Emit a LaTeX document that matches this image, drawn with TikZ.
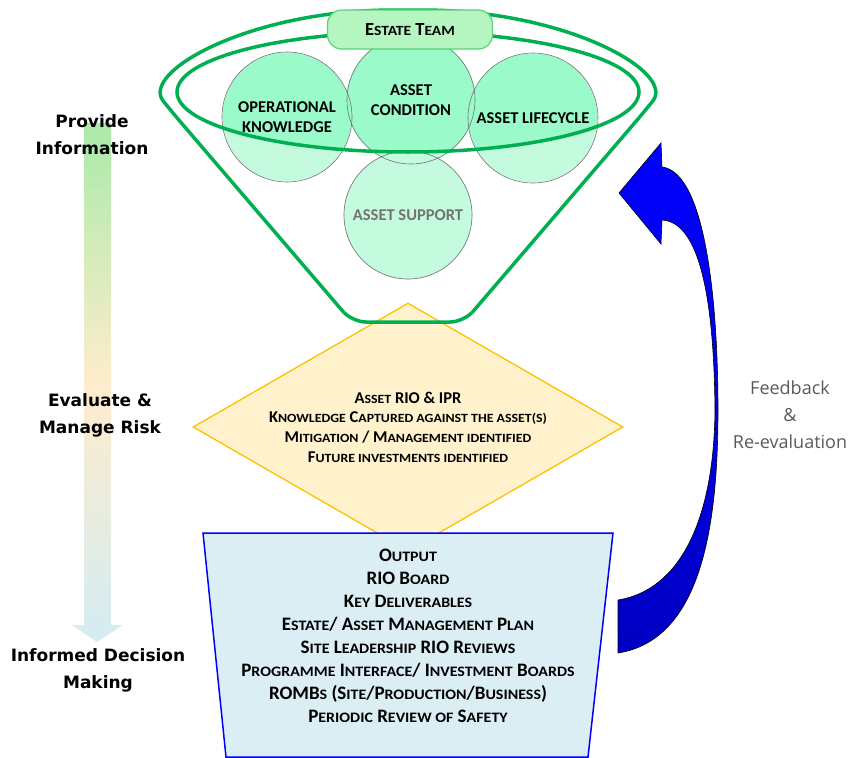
\documentclass[tikz,border=0pt]{standalone}
\usepackage{fontspec}
\setmainfont{Carlito}
\newfontfamily\stagefont{DejaVu Sans}
\newfontfamily\notefont{Open Sans}
\usepackage{graphicx}
\usetikzlibrary{shapes.geometric, positioning, backgrounds, calc}

\definecolor{funnelgreen}{RGB}{0,176,80}
\definecolor{topicdark}{RGB}{155,250,202}
\definecolor{topiclight}{RGB}{196,251,222}
\definecolor{teamfill}{RGB}{180,245,192}
\definecolor{teamline}{RGB}{90,210,120}
\definecolor{riskfill}{RGB}{255,242,204}
\definecolor{riskline}{RGB}{255,192,0}
\definecolor{outfill}{RGB}{218,238,243}
\definecolor{outline}{RGB}{0,0,255}
\definecolor{flowtop}{RGB}{170,234,170}
\definecolor{flowmid}{RGB}{254,236,204}
\definecolor{flowbot}{RGB}{212,236,243}
\definecolor{notegrey}{RGB}{90,90,90}

% fake small caps for the lower case letters
\newcommand\lc[1]{\scalebox{0.84}[0.76]{\MakeUppercase{#1}}}

\tikzset{
    funnelline/.style={draw=funnelgreen, line width=3.5pt},
    topic/.style={circle, draw=black!55, line width=0.6pt, minimum size=130pt, inner sep=0pt, align=center,
        font=\bfseries\fontsize{16.5}{20}\selectfont},
    teambox/.style={draw=teamline, fill=teamfill, line width=1.2pt, rounded corners=14pt,
        minimum width=165pt, minimum height=39pt, font=\bfseries\fontsize{18.5}{20}\selectfont},
    riskdiamond/.style={diamond, draw=riskline, fill=riskfill, line width=1.3pt, shape aspect=1.73,
        minimum width=430pt, minimum height=248pt, inner sep=0pt, align=center,
        font=\bfseries\fontsize{16.5}{19.7}\selectfont},
    outbox/.style={draw=outline, fill=outfill, line width=1.5pt},
    outtext/.style={align=center, font=\bfseries\fontsize{19}{23}\selectfont},
    stage/.style={align=center, font=\stagefont\bfseries\fontsize{17}{27}\selectfont},
    note/.style={align=center, text=notegrey, font=\notefont\fontsize{18}{27}\selectfont},
    % block arrow of the feedback loop
    feedback/.style={draw=black, line width=0.6pt, top color=blue, bottom color={rgb,255:red,0;green,0;blue,195}},
}

\begin{document}
\begin{tikzpicture}[x=1pt, y=-1pt]
    \useasboundingbox (0,0) rectangle (855,758);

    % flow on the left
    \shade[top color=flowtop, bottom color=flowbot, middle color=flowmid]
        (84,123) -- (111,123) -- (111,625) -- (123,625) -- (97,642) -- (72,625) -- (84,625) -- cycle;
    \node[stage] (provide)  at (92,135)  {Provide\\Information};
    \node[stage] (evaluate) at (100,415) {Evaluate \&\\Manage Risk};
    \node[stage] (informed) at (98,670)  {Informed Decision\\Making};

    % risk
    \node[riskdiamond] (risk) at (408,427) {A\lc{sset} RIO \& IPR\\
        K\lc{nowledge} C\lc{aptured against the asset(s)}\\
        M\lc{itigation} / M\lc{anagement identified}\\
        F\lc{uture investments identified}};

    % output
    \draw[outbox] (203,533) coordinate (out-nw) -- (613,533) coordinate (out-ne)
        -- (588,757) coordinate (out-se) -- (226,757) coordinate (out-sw) -- cycle;
    \node[outtext] (output) at (408,636) {O\lc{utput}\\
        RIO B\lc{oard}\\
        K\lc{ey} D\lc{eliverables}\\
        E\lc{state}/ A\lc{sset} M\lc{anagement} P\lc{lan}\\
        S\lc{ite} L\lc{eadership} RIO R\lc{eviews}\\
        P\lc{rogramme} I\lc{nterface}/ I\lc{nvestment} B\lc{oards}\\
        ROMB\lc{s} (S\lc{ite}/P\lc{roduction}/B\lc{usiness})\\
        P\lc{eriodic} R\lc{eview of} S\lc{afety}};

    % funnel
    \node[topic] (opk)  at (287,117) {OPERATIONAL\\KNOWLEDGE};
    \node[topic, minimum size=128pt] (cond) at (411,100) {ASSET\\CONDITION};
    \node[topic] (life) at (533,118) {ASSET LIFECYCLE};
    \node[topic, minimum size=128pt, text=black!55] (supp) at (408,215) {ASSET SUPPORT};

    \begin{scope}[on background layer]
        \foreach \topicname in {opk,cond,life,supp}
            \fill[topiclight] (\topicname.center) circle[radius=64.5];
        \clip (408,92) ellipse [x radius=231, y radius=60];
        \foreach \topicname in {opk,cond,life,supp}
            \fill[topicdark] (\topicname.center) circle[radius=64.5];
    \end{scope}

    \draw[funnelline] (408,92) ellipse [x radius=231, y radius=60];
    \draw[funnelline, rounded corners=14pt] (172,112) .. controls (140,72) and (250,10) .. (408,10)
        .. controls (566,10) and (676,72) .. (644,112) -- (464,322) -- (352,322) -- cycle;

    \node[teambox] (team) at (410,29.5) {E\lc{state} T\lc{eam}};

    % feedback loop
    \shadedraw[feedback] (619,193) -- (661,143) -- (662,167)
        .. controls (705,172) and (718,300) .. (718,410)
        .. controls (718,530) and (700,640) .. (618,653) -- (618,600)
        .. controls (680,590) and (714,520) .. (715,410)
        .. controls (714,300) and (700,222) .. (662,220) -- (661,244) -- cycle;
    \node[note] (fb) at (790,415) {Feedback\\\&\\Re-evaluation};
\end{tikzpicture}
\end{document}
